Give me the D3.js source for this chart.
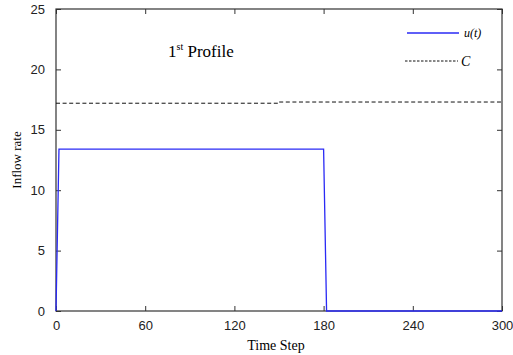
<!DOCTYPE html>
<html><head><meta charset="utf-8">
<script src="https://cdn.jsdelivr.net/npm/d3@7"></script>
<style>body{margin:0;background:#fff}svg{display:block}</style>
</head><body>
<script>
// Data
const uTimes  = [0, 1, 2, 180, 181, 182, 300];
const uValues = [0, 6.7, 13.4, 13.4, 6.7, 0, 0];
const cTimes  = [0, 150, 150, 300];
const cValues = [17.2, 17.2, 17.3, 17.3];
const xTicks = [0, 60, 120, 180, 240, 300];
const yTicks = [0, 5, 10, 15, 20, 25];

const W = 513, H = 355;
const m = {l:56, r:11, t:9, b:44};
const svg = d3.select("body").append("svg").attr("width", W).attr("height", H);
const x = d3.scaleLinear().domain([0,300]).range([m.l, W-m.r]);
const y = d3.scaleLinear().domain([0,25]).range([H-m.b, m.t]);

const axisColor = "#333";
const tickFont = "'Liberation Sans', Arial, sans-serif";

function styleAxis(g){
  g.selectAll(".domain").remove();
  g.selectAll(".tick line").attr("stroke", axisColor);
  g.selectAll(".tick text").attr("font-family", tickFont).attr("font-size", 13).attr("fill", "#222");
}
// bottom
svg.append("g").attr("transform", `translate(0,${y(0)})`)
  .call(d3.axisBottom(x).tickValues(xTicks).tickSizeInner(-5).tickSizeOuter(0).tickPadding(10))
  .call(styleAxis);
// top
svg.append("g").attr("transform", `translate(0,${y(25)})`)
  .call(d3.axisTop(x).tickValues(xTicks).tickSizeInner(-5).tickSizeOuter(0).tickFormat(""))
  .call(styleAxis);
// left
svg.append("g").attr("transform", `translate(${x(0)},0)`)
  .call(d3.axisLeft(y).tickValues(yTicks).tickSizeInner(-5).tickSizeOuter(0).tickPadding(11))
  .call(styleAxis);
// right
svg.append("g").attr("transform", `translate(${x(300)},0)`)
  .call(d3.axisRight(y).tickValues(yTicks).tickSizeInner(-5).tickSizeOuter(0).tickFormat(""))
  .call(styleAxis);

// frame
svg.append("rect").attr("x", x(0)).attr("y", y(25))
  .attr("width", x(300)-x(0)).attr("height", y(0)-y(25))
  .attr("fill","none").attr("stroke", axisColor).attr("stroke-width",1.2);

// C line
const line = d3.line().x(d=>x(d[0])).y(d=>y(d[1]));
svg.append("path").datum(cTimes.map((t,i)=>[t,cValues[i]]))
  .attr("d", line).attr("fill","none").attr("stroke","#111")
  .attr("stroke-width",1).attr("stroke-dasharray","4,2.6");
// u(t) line
svg.append("path").datum(uTimes.map((t,i)=>[t,uValues[i]]))
  .attr("d", line).attr("fill","none").attr("stroke","#2a2af5")
  .attr("stroke-width",1.3);

// Title
const serif = "'Liberation Serif', 'Times New Roman', serif";
const title = svg.append("text").attr("x",168).attr("y",57)
  .attr("font-family", serif).attr("font-size",17).attr("fill","#000");
title.append("tspan").text("1");
title.append("tspan").attr("font-size",10).attr("dy",-7).text("st");
title.append("tspan").attr("dy",7).text(" Profile");

// Legend
svg.append("line").attr("x1",407).attr("x2",459).attr("y1",33).attr("y2",33)
  .attr("stroke","#2a2af5").attr("stroke-width",1.3);
svg.append("text").attr("x",464).attr("y",37).attr("font-family",serif)
  .attr("font-style","italic").attr("font-size",12).text("u(t)");
svg.append("line").attr("x1",405).attr("x2",458).attr("y1",61).attr("y2",61)
  .attr("stroke","#111").attr("stroke-width",1).attr("stroke-dasharray","2.5,1.5");
svg.append("text").attr("x",461).attr("y",66).attr("font-family",serif)
  .attr("font-style","italic").attr("font-size",14).text("C");

// Axis labels
svg.append("text").attr("x",276).attr("y",350).attr("text-anchor","middle")
  .attr("font-family",serif).attr("font-size",14).text("Time Step");
svg.append("text").attr("transform","translate(21,160) rotate(-90)").attr("text-anchor","middle")
  .attr("font-family",serif).attr("font-size",13).text("Inflow rate");
</script>
</body></html>
